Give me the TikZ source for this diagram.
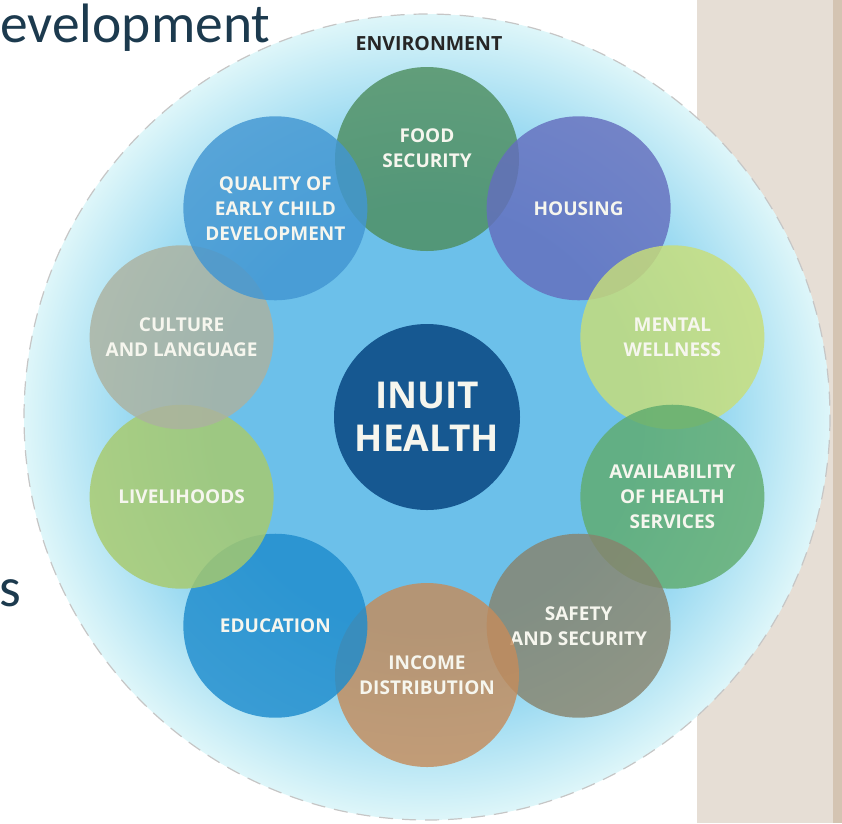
\documentclass[tikz,border=0pt]{standalone}
\usepackage{fontspec}
\newfontfamily\slidefont{Carlito}
\newfontfamily\wheelfont{Open Sans}

\definecolor{slidetext}{RGB}{28,58,78}
\definecolor{panelbeige}{RGB}{230,222,213}
\definecolor{paneledge}{RGB}{212,196,178}
\definecolor{envpale}{RGB}{222,246,249}
\definecolor{envmid}{RGB}{160,220,242}
\definecolor{envsky}{RGB}{108,192,234}
\definecolor{foodgreen}{RGB}{78,142,96}
\definecolor{housepurple}{RGB}{100,110,190}
\definecolor{mentalyellow}{RGB}{200,222,120}
\definecolor{availgreen}{RGB}{96,172,110}
\definecolor{safetybrown}{RGB}{135,132,110}
\definecolor{incomeorange}{RGB}{196,140,92}
\definecolor{edublue}{RGB}{30,140,205}
\definecolor{livegreen}{RGB}{168,202,108}
\definecolor{culturegrey}{RGB}{172,178,160}
\definecolor{qualityblue}{RGB}{66,150,210}
\definecolor{inuitblue}{RGB}{22,88,145}
\definecolor{labelwhite}{RGB}{246,246,238}

% 25bp is the rim of the circle
\pgfdeclareradialshading{envshade}{\pgfpoint{0bp}{0bp}}{color(0bp)=(envsky); color(13bp)=(envsky); color(19bp)=(envmid); color(25bp)=(envpale); color(50bp)=(envpale)}

\tikzset{every picture/.style={line width=0.75pt}}
\tikzset{
  factor/.style={circle, minimum size=184pt, inner sep=0pt, fill opacity=0.82, text opacity=1, text=labelwhite, align=center, font=\wheelfont\bfseries\fontsize{19}{25}\selectfont},
  hubnode/.style={circle, minimum size=186pt, inner sep=0pt, fill=inuitblue, text=labelwhite, align=center, font=\wheelfont\bfseries\fontsize{37}{43}\selectfont}
}

\begin{document}
\begin{tikzpicture}[x=1pt,y=1pt,yscale=-1,xscale=1]
\useasboundingbox (0,0) rectangle (842,823);
\coordinate (hub) at (427,417);

%Shape: Rectangle [side panel]
\fill[panelbeige] (697,0) rectangle (833,823);
\fill[paneledge] (833,0) rectangle (842,823);

%Shape: Circle [environment]
\shade[shading=envshade] (hub) circle (403);
\draw[gray!45, line width=1.2pt, dash pattern=on 14pt off 9pt] (hub) circle (403);

% Text Node
\node[font=\wheelfont\bfseries\fontsize{19.5}{20}\selectfont, text=black!85] (env) at (429,44) {ENVIRONMENT};

%Shape: Circles [factors]
\node[factor, fill=foodgreen] (food) at ([shift={(270:258)}]hub) {FOOD\\SECURITY\\[-3pt]};
\node[factor, fill=housepurple] (housing) at ([shift={(306:258)}]hub) {HOUSING};
\node[factor, fill=mentalyellow] (mental) at ([shift={(342:258)}]hub) {MENTAL\\WELLNESS};
\node[factor, fill=availgreen] (avail) at ([shift={(18:258)}]hub) {AVAILABILITY\\OF HEALTH\\SERVICES};
\node[factor, fill=safetybrown] (safety) at ([shift={(54:258)}]hub) {SAFETY\\AND SECURITY};
\node[factor, fill=incomeorange] (income) at ([shift={(90:258)}]hub) {INCOME\\DISTRIBUTION};
\node[factor, fill=edublue] (education) at ([shift={(126:258)}]hub) {EDUCATION};
\node[factor, fill=livegreen] (livelihoods) at ([shift={(162:258)}]hub) {LIVELIHOODS};
\node[factor, fill=culturegrey] (culture) at ([shift={(198:258)}]hub) {CULTURE\\AND LANGUAGE};
\node[factor, fill=qualityblue] (quality) at ([shift={(234:258)}]hub) {QUALITY OF\\EARLY CHILD\\DEVELOPMENT};

%Shape: Circle [centre]
\node[hubnode] (inuit) at (hub) {INUIT\\HEALTH};

% Text Node
\node[anchor=base west, inner sep=0pt, text=slidetext, font=\slidefont\fontsize{55.5}{60}\selectfont] (devtext) at (0,42) {evelopment};
% Text Node
\node[anchor=base west, inner sep=0pt, text=slidetext, font=\slidefont\fontsize{55.5}{60}\selectfont] (stext) at (-1,606) {s};

\end{tikzpicture}
\end{document}
